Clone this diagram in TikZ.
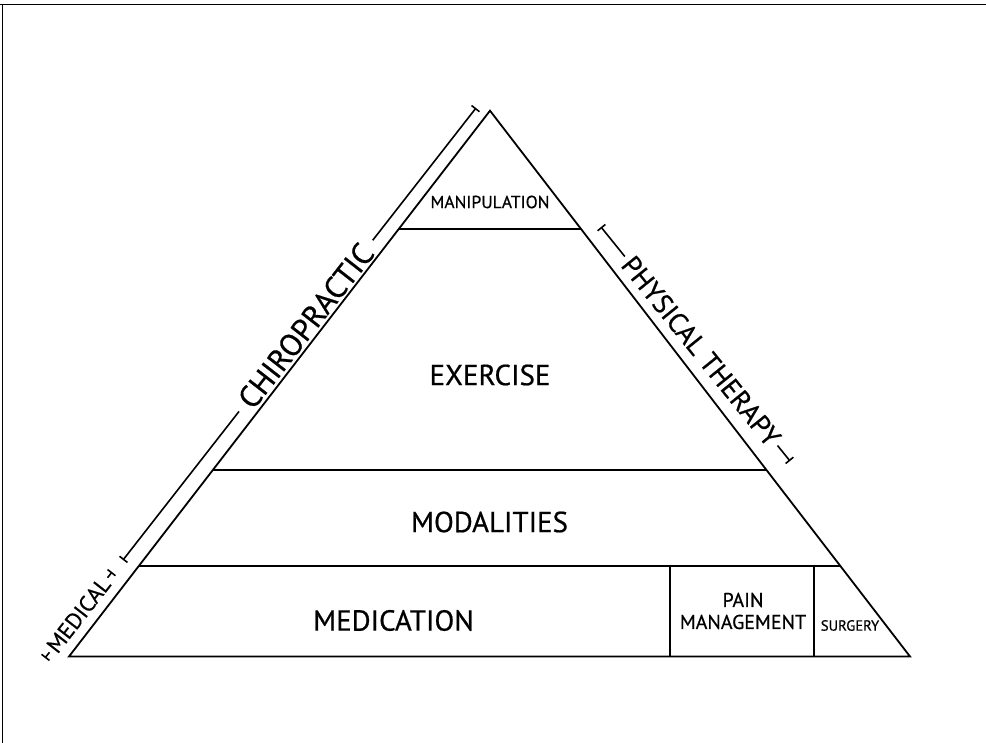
\documentclass[tikz,border=0pt]{standalone}
\usepackage{fontspec}
\setmainfont{PT Sans}[FakeBold=0.6]
\usetikzlibrary{calc,arrows.meta}
\begin{document}
\begin{tikzpicture}[x=1pt,y=-1pt,
  edge/.style={line width=1.8pt, black, line join=miter},
  frame/.style={line width=1.5pt, black},
  brk/.style={line width=1.6pt, black, {Bar[width=10pt,line width=1.6pt]}-{Bar[width=10pt,line width=1.6pt]}},
  tag/.style={sloped, fill=white, inner ysep=1pt},
  big/.style={inner sep=0pt, font=\fontsize{29}{30}\selectfont},
  mid/.style={inner sep=0pt, font=\fontsize{20}{22}\selectfont, align=center},
  small/.style={inner sep=0pt, font=\fontsize{17.5}{19}\selectfont},
  tiny/.style={inner sep=0pt, font=\fontsize{14.7}{16}\selectfont},
]
\useasboundingbox (0,0) rectangle (986,743);
% frame (top and left edges only)
\coordinate (f0) at (0,4.5);
\coordinate (f1) at (986,4.5);
\coordinate (f2) at (2.5,4.5);
\coordinate (f3) at (2.5,743);
\draw[frame] (f0) -- (f1);
\draw[frame] (f2) -- (f3);

% pyramid
\coordinate (A) at (490,110.7);
\coordinate (BL) at (69,656.5);
\coordinate (BR) at (910,656.5);
\draw[edge] (A) -- (BL) -- (BR) -- cycle;

\coordinate (L1) at ($(A)!0.2167!(BL)$);
\coordinate (R1) at ($(A)!0.2167!(BR)$);
\coordinate (L2) at ($(A)!0.6582!(BL)$);
\coordinate (R2) at ($(A)!0.6582!(BR)$);
\coordinate (L3) at ($(A)!0.8341!(BL)$);
\coordinate (R3) at ($(A)!0.8341!(BR)$);
\draw[edge] (L1) -- (R1);
\draw[edge] (L2) -- (R2);
\draw[edge] (L3) -- (R3);

\coordinate (D1t) at (670,566);
\coordinate (D1b) at (670,656.5);
\coordinate (D2t) at (814,566);
\coordinate (D2b) at (814,656.5);
\draw[edge] (D1t) -- (D1b);
\draw[edge] (D2t) -- (D2b);

% layer labels
\node[small] (manip) at (490,202) {MANIPULATION};
\node[big] (exer) at (490,375) {EXERCISE};
\node[big] (moda) at (489.5,522) {MODALITIES};
\node[big] (medi) at (393.5,620.5) {MEDICATION};
\node[mid] (pain) at (743,611) {PAIN\\MANAGEMENT};
\node[tiny] (surg) at (850,625.5) {SURGERY};

% brackets
\coordinate (cB) at (123,560);
\coordinate (cT) at (476,108);
\draw[brk] (cB) -- (cT) node[tag, pos=0.518, inner xsep=9pt, font=\fontsize{31}{32}\selectfont] (chiro) {CHIROPRACTIC};

\coordinate (mB) at (45,658);
\coordinate (mT) at (112,572);
\draw[brk] (mB) -- (mT) node[tag, pos=0.5, inner xsep=3pt, font=\fontsize{22.5}{24}\selectfont] (medic) {MEDICAL};

\coordinate (pT) at (601,227);
\coordinate (pB) at (790,461);
\draw[brk] (pT) -- (pB) node[tag, pos=0.53, inner xsep=4pt, font=\fontsize{27.5}{28}\selectfont] (phys) {PHYSICAL THERAPY};
\end{tikzpicture}
\end{document}
